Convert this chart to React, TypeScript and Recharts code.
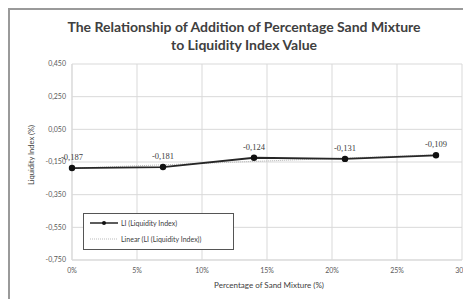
import React from "react";
import {
  CartesianGrid,
  LabelList,
  Line,
  LineChart,
  XAxis,
  YAxis,
} from "recharts";

// ─── data ─────────────────────────────────────────────────────
const SAND_PCT = [0, 7, 14, 21, 28];
const LIQUIDITY_INDEX = [-0.187, -0.181, -0.124, -0.131, -0.109];
// Excel linear trendline, endpoints
const TREND_X = [0, 28];
const TREND_Y = [-0.188, -0.105];

const X_TICKS = [0, 5, 10, 15, 20, 25, 30];
const Y_TICKS = [0.45, 0.25, 0.05, -0.15, -0.35, -0.55, -0.75];

const LI_DATA = SAND_PCT.map((x, i) => ({ x, li: LIQUIDITY_INDEX[i] }));
const TREND_DATA = TREND_X.map((x, i) => ({ x, trend: TREND_Y[i] }));

const comma = (v: number) => v.toFixed(3).replace(".", ",");

const FONT = "Lato, 'Open Sans', sans-serif";
const TICK = { fontSize: 7, fill: "#595959", fontFamily: FONT };

function LegendBox() {
  return (
    <div
      style={{
        position: "absolute",
        left: 73,
        top: 203,
        width: 149,
        height: 35,
        border: "1px solid #555",
        background: "#fff",
        fontFamily: FONT,
        fontSize: 7,
        color: "#404040",
      }}
    >
      <div style={{ display: "flex", alignItems: "center", height: 17, paddingLeft: 6 }}>
        <svg width={28} height={6}>
          <line x1={0} y1={3} x2={28} y2={3} stroke="#262626" strokeWidth={1.5} />
          <circle cx={14} cy={3} r={2} fill="#111" />
        </svg>
        <span style={{ marginLeft: 3 }}>LI (Liquidity Index)</span>
      </div>
      <div style={{ display: "flex", alignItems: "center", height: 15, paddingLeft: 6 }}>
        <svg width={28} height={6}>
          <line x1={0} y1={3} x2={28} y2={3} stroke="#bbb" strokeWidth={1} strokeDasharray="1 1" />
        </svg>
        <span style={{ marginLeft: 3 }}>Linear (LI (Liquidity Index))</span>
      </div>
    </div>
  );
}

export default function App() {
  return (
    <div
      style={{
        position: "relative",
        width: 463,
        height: 291,
        borderTop: "2px solid #9a9a9a",
        borderLeft: "2px solid #9a9a9a",
        boxSizing: "border-box",
        background: "#fff",
      }}
    >
      <div
        style={{
          position: "absolute",
          left: 0,
          top: 8,
          width: 468,
          textAlign: "center",
          fontFamily: FONT,
          fontWeight: 700,
          fontSize: 14,
          lineHeight: "18px",
          color: "#404040",
        }}
      >
        The Relationship of Addition of Percentage Sand Mixture
        <br />
        to Liquidity Index Value
      </div>

      <div style={{ position: "absolute", left: 0, top: 0 }}>
        <LineChart
          width={461}
          height={289}
          data={LI_DATA}
          margin={{ top: 54, right: 9, bottom: 9, left: 8 }}
        >
          <CartesianGrid stroke="#d9d9d9" strokeWidth={1} />
          <XAxis
            dataKey="x"
            type="number"
            domain={[0, 30]}
            ticks={X_TICKS}
            tickFormatter={(v: number) => `${v}%`}
            tick={TICK}
            axisLine={{ stroke: "#d9d9d9" }}
            tickLine={false}
            height={30}
            interval={0}
          />
          <YAxis
            type="number"
            domain={[-0.75, 0.45]}
            ticks={Y_TICKS}
            tickFormatter={comma}
            tick={TICK}
            axisLine={{ stroke: "#d9d9d9" }}
            tickLine={false}
            tickSize={4}
            width={54}
            interval={0}
          />
          <Line
            data={TREND_DATA}
            dataKey="trend"
            stroke="#b5b5b5"
            strokeWidth={1}
            strokeDasharray="1 1"
            dot={false}
            isAnimationActive={false}
            legendType="none"
          />
          <Line
            dataKey="li"
            stroke="#262626"
            strokeWidth={1.8}
            dot={{ r: 2.3, fill: "#111", stroke: "#111" }}
            isAnimationActive={false}
          >
            <LabelList
              dataKey="li"
              position="top"
              offset={8}
              formatter={(v: number) => comma(v)}
              style={{ fontSize: 8.5, fill: "#404040", fontFamily: "'Liberation Serif', serif" }}
            />
          </Line>
        </LineChart>
      </div>

      <div
        style={{
          position: "absolute",
          left: 0,
          top: 270,
          width: 518,
          textAlign: "center",
          fontFamily: FONT,
          fontSize: 8,
          color: "#404040",
        }}
      >
        Percentage of Sand Mixture (%)
      </div>
      <div
        style={{
          position: "absolute",
          left: 21,
          top: 145,
          width: 0,
          height: 0,
        }}
      >
        <div
          style={{
            position: "absolute",
            transform: "translate(-50%, -50%) rotate(-90deg)",
            whiteSpace: "nowrap",
            fontFamily: FONT,
            fontSize: 7.5,
            color: "#404040",
          }}
        >
          Liquidity Index (%)
        </div>
      </div>

      <LegendBox />
    </div>
  );
}
